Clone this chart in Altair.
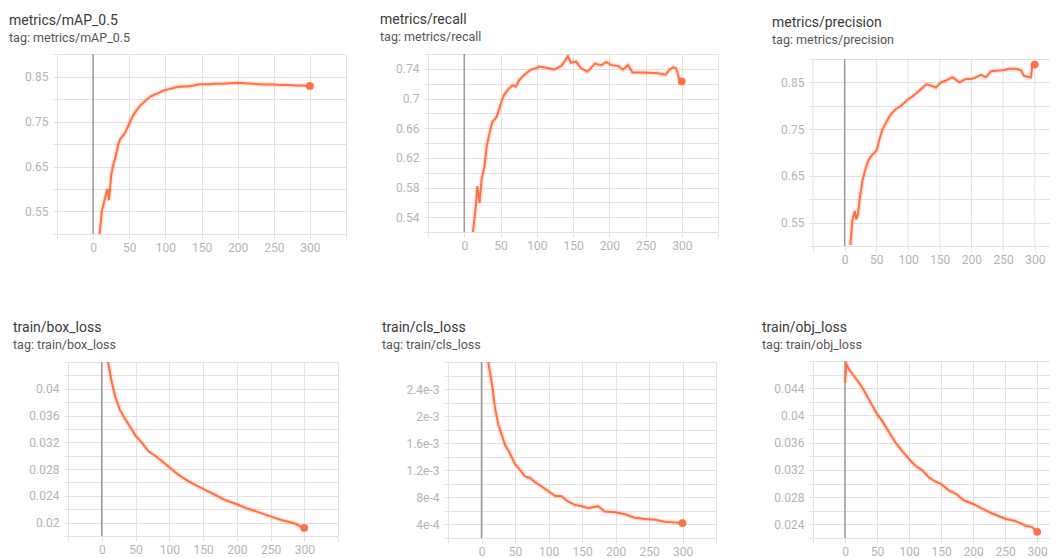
import altair as alt
import pandas as pd

# ---------------- data ----------------
MAP_EPOCH = [9, 12, 15, 18, 20, 22, 25, 28, 30, 33, 35, 38, 40, 43, 45, 48, 50, 55, 60, 65,
             70, 75, 80, 85, 90, 95, 100, 105, 110, 115, 120, 125, 130, 135, 140, 145, 150, 160, 170, 180,
             190, 200, 210, 220, 230, 240, 250, 260, 270, 280, 290, 300]
MAP_VALUE = [0.50, 0.55, 0.57, 0.59, 0.60, 0.575, 0.63, 0.655, 0.665, 0.685, 0.70, 0.712, 0.716, 0.722, 0.728, 0.738, 0.745, 0.762, 0.775, 0.785,
             0.792, 0.80, 0.806, 0.81, 0.813, 0.817, 0.82, 0.822, 0.824, 0.826, 0.827, 0.828, 0.828, 0.829, 0.83, 0.832, 0.833, 0.833, 0.834, 0.834,
             0.835, 0.836, 0.835, 0.834, 0.833, 0.832, 0.832, 0.831, 0.831, 0.83, 0.83, 0.829]

REC_EPOCH = [12, 16, 18, 21, 24, 28, 31, 35, 39, 44, 48, 52, 55, 62, 67, 71, 76, 83, 92, 99,
             104, 115, 124, 134, 143, 147, 154, 161, 170, 180, 189, 196, 203, 212, 219, 226, 232, 249, 267, 278,
             283, 288, 292, 297, 300]
REC_VALUE = [0.52, 0.555, 0.582, 0.559, 0.591, 0.609, 0.636, 0.654, 0.669, 0.674, 0.685, 0.698, 0.705, 0.714, 0.718, 0.716, 0.725, 0.732, 0.739, 0.741,
             0.743, 0.741, 0.739, 0.744, 0.757, 0.748, 0.750, 0.741, 0.736, 0.747, 0.745, 0.749, 0.745, 0.744, 0.739, 0.745, 0.735, 0.735, 0.734, 0.732,
             0.739, 0.742, 0.741, 0.725, 0.723]

PRE_EPOCH = [9, 12, 16, 18, 21, 24, 28, 32, 37, 42, 50, 55, 60, 68, 73, 81, 89, 100, 108, 115,
             123, 129, 136, 144, 152, 160, 170, 181, 191, 200, 207, 215, 223, 231, 239, 249, 260, 270, 278, 283,
             291, 294, 296, 300]
PRE_VALUE = [0.502, 0.554, 0.575, 0.557, 0.568, 0.604, 0.639, 0.661, 0.682, 0.693, 0.704, 0.729, 0.75, 0.771, 0.782, 0.793, 0.80, 0.814, 0.821, 0.829,
             0.839, 0.846, 0.843, 0.839, 0.85, 0.854, 0.861, 0.85, 0.857, 0.857, 0.861, 0.866, 0.861, 0.874, 0.875, 0.876, 0.879, 0.879, 0.876, 0.864,
             0.861, 0.861, 0.886, 0.888]

BOX_EPOCH = [7, 9, 15, 20, 27, 34, 44, 50, 59, 69, 79, 89, 101, 113, 128, 143, 151, 167, 182, 201,
             216, 231, 251, 266, 285, 300]
BOX_VALUE = [0.0455, 0.0441, 0.0409, 0.0388, 0.0368, 0.0356, 0.0340, 0.0330, 0.0320, 0.0307, 0.0300, 0.0292, 0.0282, 0.0272, 0.0262, 0.0254, 0.0250, 0.0242, 0.0234, 0.0227,
             0.0221, 0.0216, 0.0209, 0.0204, 0.0199, 0.0192]

CLS_EPOCH = [8, 10, 14, 17, 20, 25, 30, 35, 42, 50, 57, 65, 72, 82, 90, 100, 110, 119, 129, 139,
             150, 159, 174, 184, 200, 214, 229, 244, 259, 274, 289, 300]
CLS_VALUE = [0.00300, 0.00280, 0.00257, 0.00238, 0.00213, 0.00188, 0.00173, 0.00158, 0.00146, 0.00129, 0.00121, 0.00111, 0.00109, 0.00101, 0.00096, 0.00089, 0.00082, 0.00082, 0.00074, 0.00069,
             0.00067, 0.00064, 0.00067, 0.00059, 0.00058, 0.00055, 0.00050, 0.00048, 0.00047, 0.00044, 0.00043, 0.00042]

OBJ_EPOCH = [0, 2, 6, 14, 22, 30, 37, 50, 58, 69, 79, 89, 100, 110, 121, 131, 141, 150, 162, 173,
             186, 200, 214, 230, 251, 266, 282, 292, 300]
OBJ_VALUE = [0.0448, 0.0476, 0.0468, 0.0458, 0.0448, 0.0436, 0.0424, 0.0402, 0.0392, 0.0375, 0.0360, 0.0348, 0.0336, 0.0326, 0.0319, 0.0309, 0.0303, 0.0299, 0.0290, 0.0285,
             0.0275, 0.0270, 0.0263, 0.0256, 0.0248, 0.0245, 0.0238, 0.0236, 0.0229]

# axis tick values / labels
X_GRID_FULL = [-50, 0, 50, 100, 150, 200, 250, 300, 350]
X_GRID_CUT = [-50, 0, 50, 100, 150, 200, 250, 300]

GRID_050_090 = [0.50, 0.55, 0.60, 0.65, 0.70, 0.75, 0.80, 0.85, 0.90]
LAB_050_090 = [0.55, 0.65, 0.75, 0.85]
TXT_050_090 = ["0.55", "0.65", "0.75", "0.85"]

GRID_REC = [0.52, 0.54, 0.56, 0.58, 0.60, 0.62, 0.64, 0.66, 0.68, 0.70, 0.72, 0.74, 0.76]
LAB_REC = [0.54, 0.58, 0.62, 0.66, 0.70, 0.74]
TXT_REC = ["0.54", "0.58", "0.62", "0.66", "0.7", "0.74"]

GRID_BOX = [0.018, 0.020, 0.022, 0.024, 0.026, 0.028, 0.030, 0.032, 0.034, 0.036, 0.038, 0.040, 0.042, 0.044]
LAB_BOX = [0.020, 0.024, 0.028, 0.032, 0.036, 0.040]
TXT_BOX = ["0.02", "0.024", "0.028", "0.032", "0.036", "0.04"]

GRID_CLS = [0.0002, 0.0004, 0.0006, 0.0008, 0.0010, 0.0012, 0.0014, 0.0016, 0.0018, 0.0020, 0.0022, 0.0024, 0.0026, 0.0028]
LAB_CLS = [0.0004, 0.0008, 0.0012, 0.0016, 0.0020, 0.0024]
TXT_CLS = ["4e-4", "8e-4", "1.2e-3", "1.6e-3", "2e-3", "2.4e-3"]

GRID_OBJ = [0.022, 0.024, 0.026, 0.028, 0.030, 0.032, 0.034, 0.036, 0.038, 0.040, 0.042, 0.044, 0.046, 0.048]
LAB_OBJ = [0.024, 0.028, 0.032, 0.036, 0.040, 0.044]
TXT_OBJ = ["0.024", "0.028", "0.032", "0.036", "0.04", "0.044"]

# ---------------- styling ----------------
FONT = "Roboto"
LINE = "#ff7043"
GRID = "#e2e2e2"
LABEL = "#b4b4b4"


def label_expr(vals, texts):
    parts = [f"abs(datum.value - {v}) < 1e-9 ? '{t}'" for v, t in zip(vals, texts)]
    return " : ".join(parts) + " : ''"


def panel(name, epochs, values, width, height, xmax, xgrid, ydomain, ygrid, ylab, ytxt,
          left, title_dx, title_offset, ytop=None):
    df = pd.DataFrame({"step": epochs, "value": values})
    last = df.tail(1)
    ymax = ydomain[1] if ytop is None else ytop
    own_vgrid = ytop is not None  # draw vertical grid only over the gridded band

    x_enc = alt.X(
        "step:Q",
        scale=alt.Scale(domain=[-50, xmax], nice=False, zero=False),
        axis=alt.Axis(
            values=xgrid, tickCount=len(xgrid) + 2,
            labelExpr="datum.value >= 0 && datum.value <= 300 ? datum.label : ''",
            title=None, grid=not own_vgrid, gridColor=GRID, gridWidth=1, domain=False,
            tickColor=GRID, tickSize=5, labelPadding=3, labelFont=FONT, labelFontSize=12,
            labelColor=LABEL, labelFlush=False, labelOverlap=False,
        ),
    )
    y_enc = alt.Y(
        "value:Q",
        scale=alt.Scale(domain=[ydomain[0], ymax], nice=False, zero=False),
        axis=alt.Axis(
            values=ygrid, tickCount=len(ygrid) + 2, labelExpr=label_expr(ylab, ytxt),
            title=None, grid=True, gridColor=GRID, gridWidth=1, domain=False,
            tickColor=GRID, tickSize=4, labelPadding=5, labelFont=FONT, labelFontSize=12,
            labelColor=LABEL, labelFlush=False, labelOverlap=False,
        ),
    )

    layers = []
    halo = alt.Chart(df).mark_line(color=LINE, strokeWidth=5, opacity=0.18, clip=True).encode(x=x_enc, y=y_enc)
    layers.append(halo)
    # invisible 1px box that fixes the panel's left edge in the layout
    edge = alt.Chart(pd.DataFrame({"v": [0]})).mark_rect(opacity=0).encode(
        x=alt.value(-left), x2=alt.value(-left + 1),
        y=alt.value(height / 2), y2=alt.value(height / 2 + 1),
    )
    layers.append(edge)
    if own_vgrid:
        vg = alt.Chart(pd.DataFrame({"step": xgrid, "lo": [ydomain[0]] * len(xgrid),
                                     "hi": [ydomain[1]] * len(xgrid)}))
        layers.append(vg.mark_rule(color=GRID, strokeWidth=1).encode(x="step:Q", y="lo:Q", y2="hi:Q"))
    zero = alt.Chart(pd.DataFrame({"step": [0], "lo": [ydomain[0]], "hi": [ydomain[1]]})).mark_rule(
        color="#9a9a9a", strokeWidth=1.5
    ).encode(x="step:Q", y="lo:Q", y2="hi:Q")
    line = alt.Chart(df).mark_line(color=LINE, strokeWidth=2, clip=True).encode(x="step:Q", y="value:Q")
    dot = alt.Chart(last).mark_circle(color=LINE, size=60, opacity=1).encode(x="step:Q", y="value:Q")
    layers += [zero, line, dot]

    return alt.layer(*layers).properties(
        width=width, height=height,
        title=alt.TitleParams(
            text=name, subtitle="tag: " + name, anchor="start", frame="group", dx=title_dx,
            baseline="top",
            font=FONT, fontSize=14, fontWeight="normal", color="#3a3a3a",
            subtitleFont=FONT, subtitleFontSize=12.5, subtitleColor="#555555",
            subtitlePadding=4, offset=title_offset,
        ),
    )


def spacer():
    return alt.Chart(pd.DataFrame({"v": [0]})).mark_rect(opacity=0).encode(
        x=alt.value(0), x2=alt.value(1), y=alt.value(0), y2=alt.value(1)
    ).properties(width=1, height=1)


p1 = panel("metrics/mAP_0.5", MAP_EPOCH, MAP_VALUE, 289, 180, 350, X_GRID_FULL,
           [0.5, 0.9], GRID_050_090, LAB_050_090, TXT_050_090, 48, -48, 4)
p2 = panel("metrics/recall", REC_EPOCH, REC_VALUE, 290, 178, 350, X_GRID_FULL,
           [0.52, 0.76], GRID_REC, LAB_REC, TXT_REC, 81, -48, 5)
p3 = panel("metrics/precision", PRE_EPOCH, PRE_VALUE, 237, 192, 324, X_GRID_CUT,
           [0.5, 0.9], GRID_050_090, LAB_050_090, TXT_050_090, 94, -41, 7, ytop=0.9107)
p4 = panel("train/box_loss", BOX_EPOCH, BOX_VALUE, 270, 174, 350, X_GRID_FULL,
           [0.018, 0.044], GRID_BOX, LAB_BOX, TXT_BOX, 59, -55, 5)
p5 = panel("train/cls_loss", CLS_EPOCH, CLS_VALUE, 268, 176, 350, X_GRID_FULL,
           [0.0002, 0.0028], GRID_CLS, LAB_CLS, TXT_CLS, 90, -66, 5)
p6 = panel("train/obj_loss", OBJ_EPOCH, OBJ_VALUE, 237, 177, 320, X_GRID_CUT,
           [0.022, 0.048], GRID_OBJ, LAB_OBJ, TXT_OBJ, 74, -51, 4)

chart = alt.concat(
    spacer(), p1, p2, p3, spacer(), p4, p5, p6,
    columns=4, align="none", spacing={"row": 55, "column": 0},
).properties(
    padding={"left": 0, "top": 4, "right": 0, "bottom": 0},
    background="white",
).configure_view(stroke="transparent", strokeWidth=0)

chart.save("out.html", embed_options={"renderer": "svg", "actions": False})
